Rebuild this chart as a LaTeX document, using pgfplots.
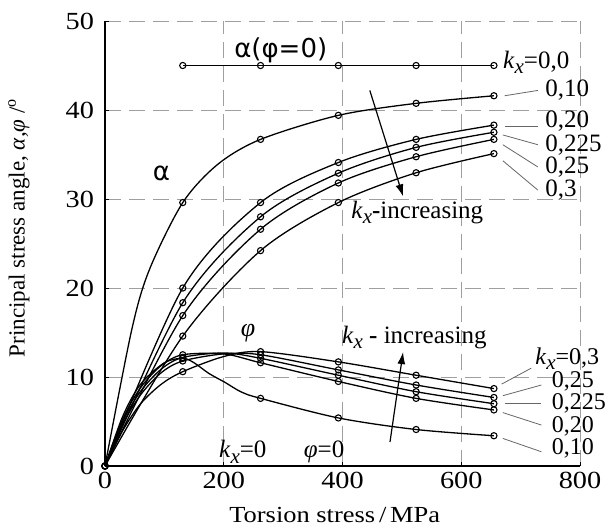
\documentclass[border=0pt]{standalone}
\usepackage{fontspec}
\setmainfont{Liberation Serif}
\newfontfamily\widerm{Liberation Serif}[FakeStretch=1.15]
\newfontfamily\sansf{DejaVu Sans}
\usepackage{pgfplots}
\pgfplotsset{compat=1.18}
\usetikzlibrary{arrows.meta}
\newcommand{\kx}{\textit{k}\raisebox{-0.45ex}{\fontsize{10.5}{11}\selectfont\textit{x}}}
\begin{document}
\begin{tikzpicture}
\useasboundingbox (-52.5pt,-32.5pt) rectangle (253pt,233pt);
\begin{axis}[
  width=237.5pt, height=222.5pt, scale only axis,
  xmin=0, xmax=800, ymin=0, ymax=50,
  xtick={0,200,...,800}, ytick={0,10,...,50},
  axis x line=bottom, axis y line=left,
  axis line style={-, line width=0.7pt},
  grid=major,
  major grid style={gray!75, line width=0.5pt, dash pattern=on 8pt off 4pt},
  tick style={black, line width=0.4pt}, major tick length=2pt, tick align=inside,
  /pgf/number format/assume math mode=true,
  ticklabel style={font=\widerm\fontsize{12.3}{13}\selectfont},
  yticklabel style={xshift=-2pt},
  xticklabel style={yshift=0.5pt},
  clip=false,
  every axis plot/.append style={black, line width=0.65pt},
  mk/.style={mark=o, mark size=1.55pt, mark options={solid, fill=white, line width=0.55pt}},
]
% alpha (phi = 0)
\addplot[mk] coordinates {(131,45) (262,45) (393,45) (524,45) (655,45)};
% alpha, kx = 0.10 (curve read along its path, marks at data points)
\addplot[smooth] coordinates {(0,0) (45,15.3) (75,22.1) (131,29.6) (190,33.9) (262,36.7) (393,39.4) (524,40.75) (655,41.6)};
\addplot[only marks, mk] coordinates {(131,29.6) (262,36.7) (393,39.4) (524,40.75) (655,41.6)};
% alpha, kx = 0.20 .. 0.3
\addplot[smooth, mk] coordinates {(0,0) (131,20.0) (262,29.6) (393,34.1) (524,36.7) (655,38.3)};
\addplot[smooth, mk] coordinates {(0,0) (131,18.35) (262,28.0) (393,32.9) (524,35.8) (655,37.5)};
\addplot[smooth, mk] coordinates {(0,0) (131,16.9) (262,26.6) (393,31.8) (524,34.75) (655,36.7)};
\addplot[smooth, mk] coordinates {(0,0) (131,14.6) (262,24.2) (393,29.6) (524,32.95) (655,35.1)};
% phi, kx = 0.10
\addplot[smooth] coordinates {(0,0) (30,5.6) (60,9.2) (100,11.6) (131,12.1) (150,11.6) (175,10.4) (202,9.4) (230,8.3) (262,7.6) (393,5.4) (524,4.1) (655,3.4)};
\addplot[only marks, mk] coordinates {(131,12.1) (262,7.6) (393,5.4) (524,4.1) (655,3.4)};
% phi, kx = 0.20 .. 0.3
\addplot[smooth] coordinates {(0,0) (30,5.3) (60,8.8) (95,11.3) (131,12.5) (200,12.6) (262,11.6) (393,9.5) (524,7.6) (655,6.3)};
\addplot[smooth] coordinates {(0,0) (30,5.0) (60,8.4) (95,10.9) (131,12.2) (200,12.7) (262,12.1) (393,10.2) (524,8.35) (655,7.0)};
\addplot[smooth] coordinates {(0,0) (30,4.7) (60,8.0) (95,10.5) (131,11.8) (200,12.6) (262,12.5) (393,10.8) (524,9.1) (655,7.7)};
\addplot[smooth] coordinates {(0,0) (30,4.0) (60,7.0) (95,9.2) (131,10.6) (200,12.3) (262,12.85) (393,11.7) (524,10.2) (655,8.7)};
\addplot[only marks, mk] coordinates {(131,12.5) (262,11.6) (393,9.5) (524,7.6) (655,6.3)};
\addplot[only marks, mk] coordinates {(131,12.2) (262,12.1) (393,10.2) (524,8.35) (655,7.0)};
\addplot[only marks, mk] coordinates {(131,11.8) (262,12.5) (393,10.8) (524,9.1) (655,7.7)};
\addplot[only marks, mk] coordinates {(131,10.6) (262,12.85) (393,11.7) (524,10.2) (655,8.7)};
\addplot[only marks, mk] coordinates {(0,0)};

% annotations
\node[font=\sansf\fontsize{13}{15}\selectfont] at (axis cs:296,46.7) {α(φ=0)};
\node[font=\sansf\fontsize{13}{15}\selectfont] at (axis cs:95,32.9) {α};
\node[font=\rmfamily\fontsize{13}{15}\selectfont\itshape] at (axis cs:241,14.9) {φ};
\node[font=\rmfamily\fontsize{12.5}{15}\selectfont] at (axis cs:232,1.6) {\kx=0};
\node[font=\rmfamily\fontsize{12.5}{15}\selectfont] at (axis cs:369,1.6) {\textit{φ}=0};
\node[font=\rmfamily\fontsize{12.5}{15}\selectfont] at (axis cs:526,28.5) {\kx\textbf{-}increasing};
\node[font=\rmfamily\fontsize{12.5}{15}\selectfont] at (axis cs:521,14.4) {\kx\ \textbf{-} increasing};
\draw[line width=0.6pt, -{Latex[length=6pt,width=4pt]}] (axis cs:446,42.2) -- (axis cs:502,30.3);
\draw[line width=0.6pt, -{Latex[length=6pt,width=4pt]}] (axis cs:480,2.7) -- (axis cs:502,12.8);

% right labels
\begin{scope}[every node/.style={anchor=west, inner sep=0pt, font=\rmfamily\fontsize{12.5}{15}\selectfont}]
\node at (axis cs:670,45.4) {\kx=0,0};
\node at (axis cs:741,42.2) {0,10};
\node at (axis cs:741,38.7) {0,20};
\node at (axis cs:741,36.1) {0,225};
\node at (axis cs:741,33.6) {0,25};
\node at (axis cs:741,31.0) {0,3};
\end{scope}
\begin{scope}[every node/.style={anchor=west, inner sep=0pt, font=\rmfamily\fontsize{12}{14}\selectfont}]
\node at (axis cs:724,12.1) {\kx=0,3};
\node at (axis cs:752,9.5) {0,25};
\node at (axis cs:752,7.05) {0,225};
\node at (axis cs:752,4.5) {0,20};
\node at (axis cs:752,1.95) {0,10};
\end{scope}
\begin{scope}[gray!80!black, line width=0.4pt]
\draw (axis cs:673,41.6) -- (axis cs:729,42.2);
\draw (axis cs:673,38.2) -- (axis cs:729,38.2);
\draw (axis cs:670,37.2) -- (axis cs:729,36.1);
\draw (axis cs:670,36.1) -- (axis cs:729,33.6);
\draw (axis cs:670,34.3) -- (axis cs:729,31.0);
\draw (axis cs:668,9.2) -- (axis cs:718,11.0);
\draw (axis cs:670,7.9) -- (axis cs:735,9.1);
\draw (axis cs:673,7.0) -- (axis cs:735,7.0);
\draw (axis cs:670,6.0) -- (axis cs:735,4.6);
\draw (axis cs:670,3.1) -- (axis cs:735,1.6);
\end{scope}

\node[rotate=90, anchor=west, inner sep=0pt, font=\rmfamily\fontsize{11.5}{14}\selectfont] at (axis cs:-145,12.2) {Principal stress angle, \textit{α,φ} /\textsuperscript{o}};
\node[font=\widerm\fontsize{11.5}{14}\selectfont] at (axis cs:387,-5.5) {Torsion stress\,/\,MPa};
\end{axis}
\end{tikzpicture}
\end{document}
